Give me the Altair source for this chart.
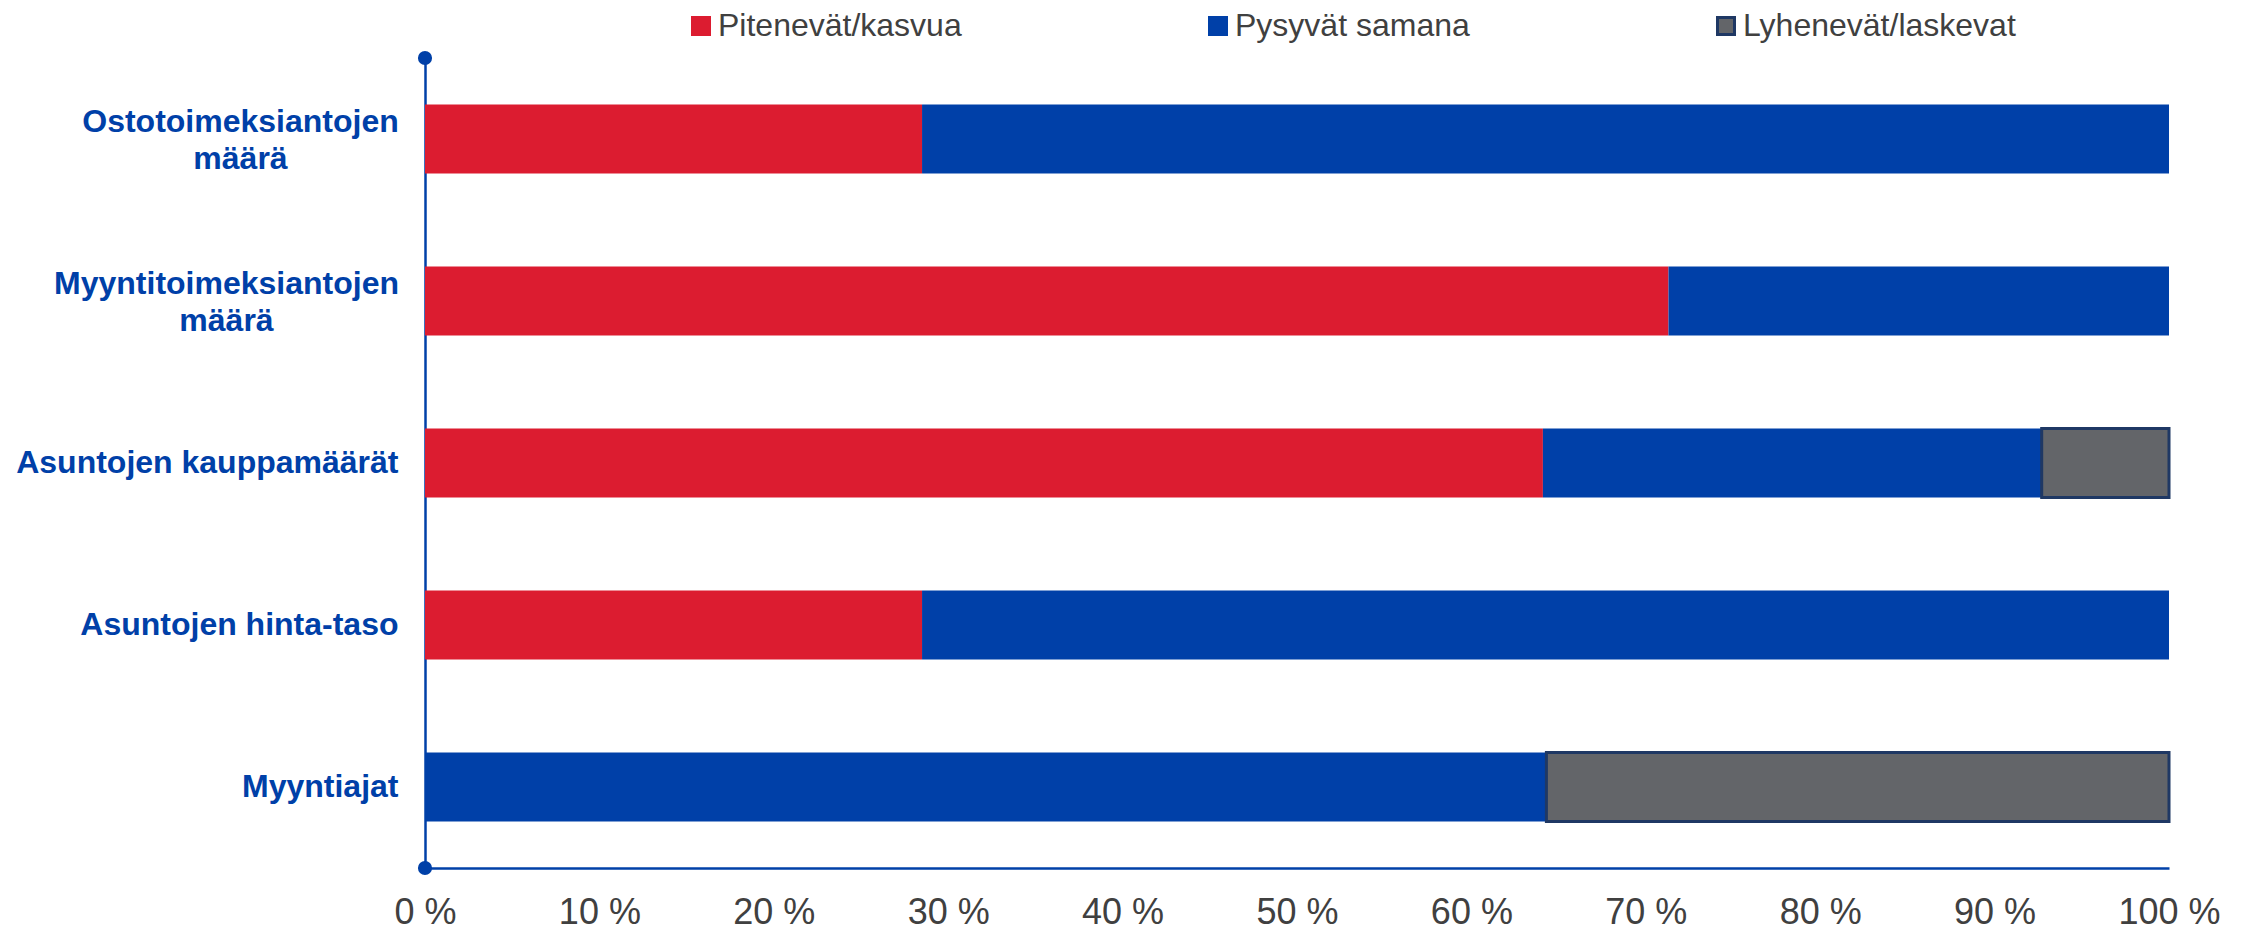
import altair as alt
import pandas as pd

categories = ["Ostotoimeksiantojen määrä", "Myyntitoimeksiantojen määrä",
              "Asuntojen kauppamäärät", "Asuntojen hinta-taso", "Myyntiajat"]
series = ["Pitenevät/kasvua", "Pysyvät samana", "Lyhenevät/laskevat"]
increase = [28.5, 71.3, 64.1, 28.5, 0.0]
same = [71.5, 28.7, 28.6, 71.5, 64.3]
decrease = [0.0, 0.0, 7.3, 0.0, 35.7]
x_ticks = [0, 10, 20, 30, 40, 50, 60, 70, 80, 90, 100]

RED = "#DC1C30"
BLUE = "#0040A8"
GRAY = "#636569"
NAVY = "#1F3864"
TEXT = "#404040"
FONT = "Liberation Sans, Arial, sans-serif"

rows = []
for i, c in enumerate(categories):
    for j, (s, vals) in enumerate(zip(series, [increase, same, decrease])):
        rows.append({"cat": c, "series": s, "value": vals[i], "order": j})
df = pd.DataFrame(rows)

W, H = 1744, 810

# two-line labels: centred, with padding = gap + half width of the first line
two_line = {"Ostotoimeksiantojen määrä": 158, "Myyntitoimeksiantojen määrä": 172}
GAP = 27
pad_cond = [{"test": f"datum.value == '{k}'", "value": GAP + v} for k, v in two_line.items()]
align_test = " || ".join(f"datum.value == '{k}'" for k in two_line)
label_expr = " : ".join(
    f"datum.label == '{k}' ? split(datum.label, ' ')" for k in two_line
) + " : datum.label"

legend = alt.Legend(
    title=None, orient="none", direction="horizontal", legendX=260, legendY=-48,
    symbolType="square", symbolSize=289, symbolStrokeWidth=3, labelFontSize=32,
    labelColor=TEXT, labelFont=FONT, columnPadding=240, labelOffset=1,
    labelLimit=400,
)

bars = alt.Chart(df).transform_filter("datum.value > 0").mark_bar().encode(
    y=alt.Y("cat:N", sort=categories,
            scale=alt.Scale(paddingInner=0.574, paddingOuter=0.287),
            axis=alt.Axis(
                title=None, ticks=False, labelFont=FONT, labelFontWeight="bold",
                labelFontSize=32, labelColor=BLUE, labelLimit=600,
                labelLineHeight=37, labelExpr=label_expr,
                labelAlign={"condition": {"test": align_test, "value": "center"}, "value": "right"},
                labelPadding={"condition": pad_cond, "value": GAP},
                labelOffset={"condition": {"test": align_test, "value": -17}, "value": 0},
                domainColor=BLUE, domainWidth=2.5)),
    x=alt.X("value:Q", stack="zero",
            scale=alt.Scale(domain=[0, 100], nice=False),
            axis=alt.Axis(title=None, values=x_ticks, grid=False, ticks=False,
                          labelExpr="datum.value + ' %'", labelFont=FONT,
                          labelFontSize=36, labelColor=TEXT, labelPadding=27,
                          domainColor=BLUE, domainWidth=2.5, labelFlush=False)),
    fill=alt.Fill("series:N", sort=series,
                  scale=alt.Scale(domain=series, range=[RED, BLUE, GRAY]),
                  legend=legend),
    stroke=alt.Stroke("series:N", sort=series,
                      scale=alt.Scale(domain=series, range=[RED, BLUE, NAVY]),
                      legend=legend),
    strokeWidth=alt.condition("datum.series == 'Lyhenevät/laskevat'", alt.value(3), alt.value(0)),
    order=alt.Order("order:Q"),
)

dot_df = pd.DataFrame({"x": [0]})
dot_top = alt.Chart(dot_df).mark_circle(size=200, color=BLUE, opacity=1).encode(
    x=alt.X("x:Q"), y=alt.value(0))
dot_bottom = alt.Chart(dot_df).mark_circle(size=200, color=BLUE, opacity=1).encode(
    x=alt.X("x:Q"), y=alt.value(H))

chart = alt.layer(bars, dot_top, dot_bottom).properties(
    width=W, height=H, padding={"left": 7, "top": 2, "right": 5, "bottom": 0}
).configure(font=FONT).configure_view(stroke=None)

chart.save("out.html", embed_options={"renderer": "svg", "actions": False})
